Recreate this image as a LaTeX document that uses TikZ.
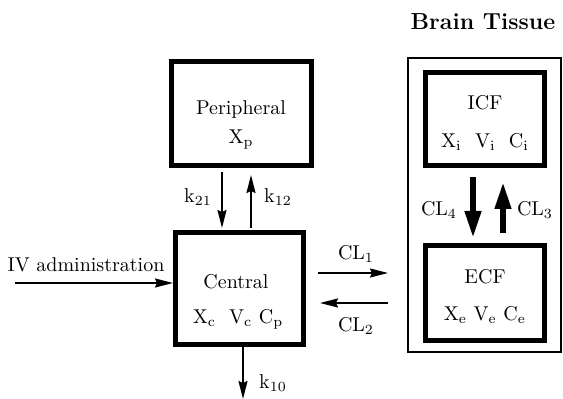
\documentclass[tikz,border=0pt]{standalone}
\usetikzlibrary{arrows.meta}
\begin{document}
\begin{tikzpicture}[x=0.5pt,y=-0.5pt,
  comp/.style={draw,line width=2.5pt,inner sep=0pt},
  txt/.style={inner sep=0pt,font=\fontsize{10}{12}\selectfont},
  arr/.style={-{Stealth[length=9pt,width=4.5pt,inset=1pt]},line width=0.9pt},
  fat/.style={-{Triangle[length=14pt,width=7.5pt]},line width=3.3pt}]
\useasboundingbox (0,0) rectangle (563,399);
% boxes
\node[draw,line width=1pt,inner sep=0pt,minimum width=76.5pt,minimum height=147pt] (brain) at (484.5,205) {};
\node[txt,font=\bfseries\fontsize{11.6}{14}\selectfont] (braint) at (483,22) {Brain Tissue};
\node[comp,minimum width=70pt,minimum height=52pt] (per) at (241.5,113.5) {};
\node[comp,minimum width=64pt,minimum height=56pt] (cen) at (239.5,288.5) {};
\node[comp,minimum width=59.5pt,minimum height=46.5pt] (icf) at (485,119) {};
\node[comp,minimum width=59.5pt,minimum height=47.5pt] (ecf) at (485,293) {};
% texts
\node[txt] (pert) at (241,110) {Peripheral};
\node[txt] (perx) at (241,140) {X$_\mathrm{p}$};
\node[txt] (cent) at (236,282) {Central};
\node[txt] (cenx) at (238,319) {X$_\mathrm{c}$\ \ V$_\mathrm{c}$\ C$_\mathrm{p}$};
\node[txt] (icft) at (485,103) {ICF};
\node[txt] (icfx) at (485,142) {X$_\mathrm{i}$\ \ V$_\mathrm{i}$\ \ C$_\mathrm{i}$};
\node[txt] (ecft) at (485,277) {ECF};
\node[txt] (ecfx) at (485,315) {X$_\mathrm{e}$\ V$_\mathrm{e}$\ C$_\mathrm{e}$};
\node[txt] (ivt) at (86,265) {IV administration};
% coordinates
\coordinate (ivs) at (15,283);
\coordinate (k21s) at (222,172);
\coordinate (k21e) at (222,228);
\coordinate (k12s) at (251,228);
\coordinate (k12e) at (251,175);
\coordinate (k10s) at (243,347);
\coordinate (k10e) at (243,399);
\coordinate (cl1s) at (318,273);
\coordinate (cl1e) at (388,273);
\coordinate (cl2s) at (388,303);
\coordinate (cl2e) at (320,303);
\coordinate (cl4s) at (473,177);
\coordinate (cl4e) at (473,239);
\coordinate (cl3s) at (503,233);
\coordinate (cl3e) at (503,181);
% arrows
\draw[arr] (ivs) -- (ivs -| cen.west);
\draw[arr] (k21s) -- (k21e);
\draw[arr] (k12s) -- (k12e);
\draw[arr] (k10s) -- (k10e);
\draw[arr] (cl1s) -- (cl1e);
\draw[arr] (cl2s) -- (cl2e);
\draw[fat] (cl4s) -- (cl4e);
\draw[fat] (cl3s) -- (cl3e);
% labels
\node[txt] (k21l) at (198,197) {k$_{21}$};
\node[txt] (k12l) at (278,197) {k$_{12}$};
\node[txt] (k10l) at (273,383) {k$_{10}$};
\node[txt] (cl1l) at (356,254) {CL$_1$};
\node[txt] (cl2l) at (356,326) {CL$_2$};
\node[txt] (cl4l) at (439,210) {CL$_4$};
\node[txt] (cl3l) at (535,210) {CL$_3$};
\end{tikzpicture}
\end{document}
